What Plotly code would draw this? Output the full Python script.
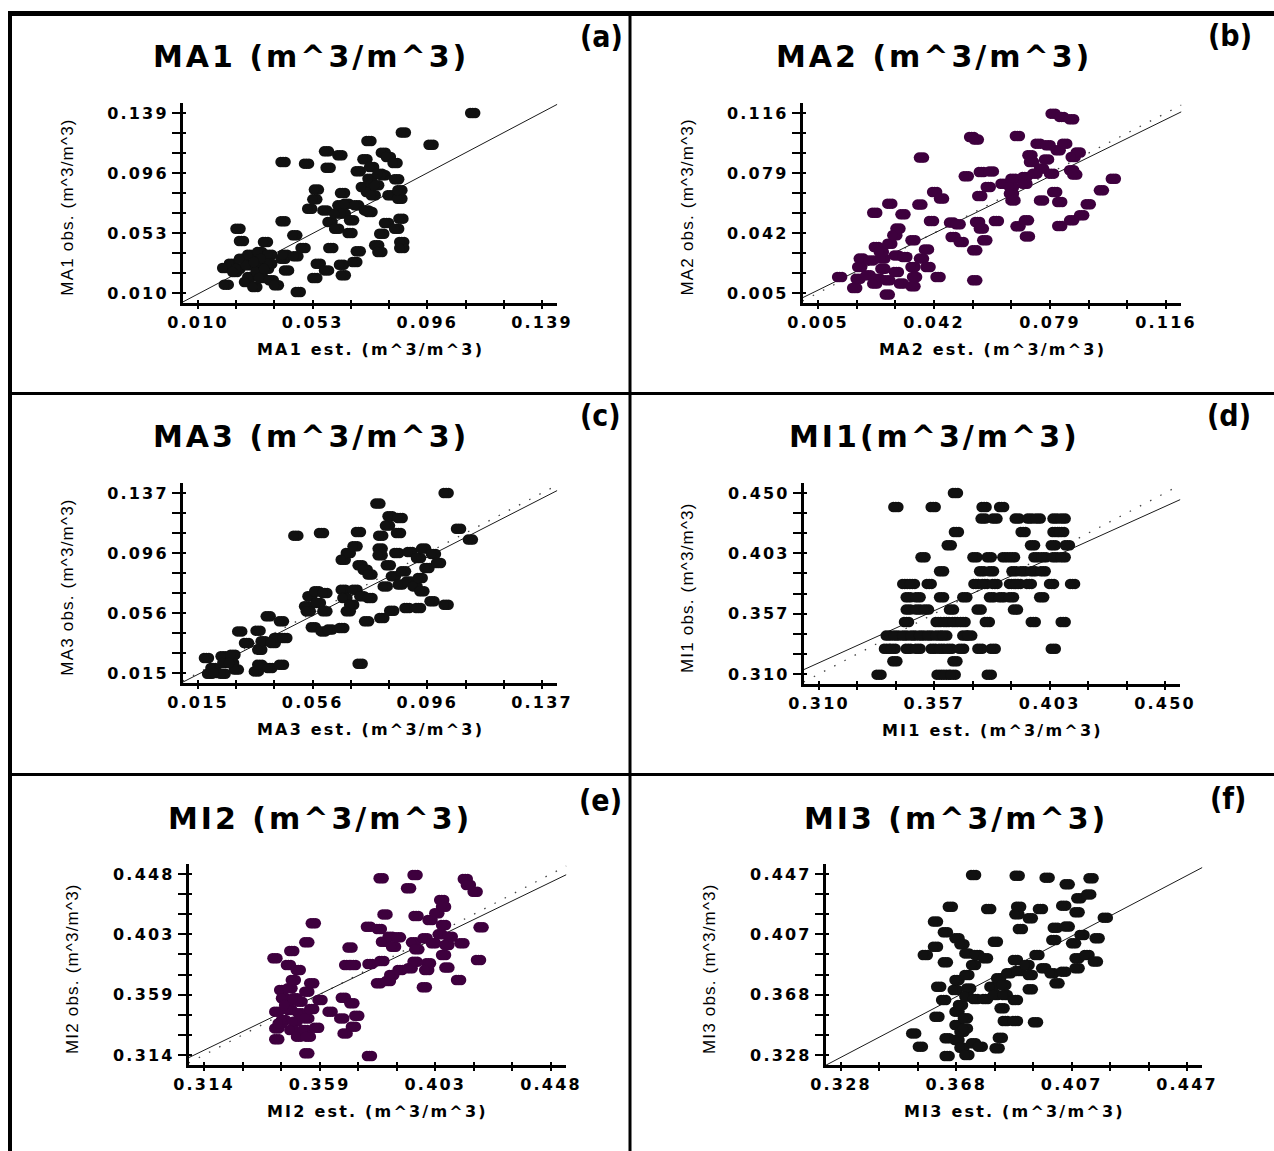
import plotly.graph_objects as go

W, H = 1274, 1151
BLACK = "#111111"
PURPLE = "#3e003e"

# ---------------- data ----------------
ma1_est = [0.113, 0.087, 0.0741, 0.0974, 0.0582, 0.0632, 0.0795, 0.0419, 0.0507, 0.0588,
           0.0726, 0.0814, 0.0839, 0.0701, 0.0751, 0.0795, 0.0845, 0.0770, 0.0739, 0.0820,
           0.0857, 0.0544, 0.0642, 0.0538, 0.0519, 0.0576, 0.0632, 0.0645, 0.0695, 0.0745,
           0.0676, 0.0595, 0.0620, 0.0419, 0.0807, 0.0861, 0.0845, 0.0670, 0.0789, 0.0463,
           0.0250, 0.0263, 0.0353, 0.0494, 0.0598, 0.0701, 0.0770, 0.0782, 0.0864, 0.0864,
           0.0294, 0.0332, 0.0369, 0.0419, 0.0467, 0.0225, 0.0200, 0.0250, 0.0288, 0.0325,
           0.0369, 0.0294, 0.0338, 0.0375, 0.0394, 0.0313, 0.0282, 0.0206, 0.0476, 0.0538,
           0.0551, 0.0582, 0.0638, 0.0645, 0.0688, 0.0426, 0.0263, 0.0344, 0.0432, 0.0657,
           0.0732, 0.0620, 0.0782, 0.0745, 0.0720, 0.0757, 0.0857, 0.0319, 0.0238, 0.0357]
ma1_obs = [0.139, 0.125, 0.1189, 0.1163, 0.1115, 0.1087, 0.1106, 0.1039, 0.1027, 0.0998,
           0.1058, 0.1075, 0.1032, 0.0972, 0.1003, 0.0943, 0.0915, 0.0872, 0.0824, 0.0800,
           0.0776, 0.0841, 0.0817, 0.0771, 0.0704, 0.0692, 0.0728, 0.0669, 0.0728, 0.0681,
           0.0621, 0.0609, 0.0561, 0.0614, 0.0602, 0.0633, 0.0561, 0.0530, 0.0525, 0.0513,
           0.0561, 0.0473, 0.0466, 0.0423, 0.0423, 0.0399, 0.0442, 0.0394, 0.0466, 0.0423,
           0.0375, 0.0394, 0.0375, 0.0346, 0.0363, 0.0310, 0.0279, 0.0274, 0.0298, 0.0250,
           0.0310, 0.0215, 0.0208, 0.0191, 0.0155, 0.0143, 0.0179, 0.0160, 0.0107, 0.0208,
           0.0310, 0.0262, 0.0303, 0.0227, 0.0322, 0.0375, 0.0346, 0.0346, 0.0262, 0.0740,
           0.0692, 0.0669, 0.0955, 0.0919, 0.0860, 0.0800, 0.0836, 0.0322, 0.0250, 0.0274]

ma2_est = [0.0800, 0.0827, 0.0859, 0.0540, 0.0555, 0.0686, 0.0380, 0.0752, 0.0784, 0.0837,
           0.0816, 0.0880, 0.0726, 0.0864, 0.0779, 0.0731, 0.0763, 0.0795, 0.0742, 0.0859,
           0.0869, 0.0710, 0.0672, 0.0640, 0.0667, 0.0710, 0.0667, 0.0672, 0.0571, 0.0603,
           0.0523, 0.0593, 0.0566, 0.0422, 0.0444, 0.0279, 0.0375, 0.0231, 0.0321, 0.0412,
           0.0476, 0.0497, 0.0559, 0.0571, 0.0619, 0.0715, 0.0688, 0.0718, 0.0763, 0.0805,
           0.0821, 0.0912, 0.0954, 0.0992, 0.0891, 0.0859, 0.0821, 0.0305, 0.0295, 0.0353,
           0.0481, 0.0507, 0.0582, 0.0550, 0.0396, 0.0380, 0.0401, 0.0353, 0.0358, 0.0433,
           0.0236, 0.0279, 0.0188, 0.0220, 0.0257, 0.0300, 0.0327, 0.0183, 0.0210, 0.0242,
           0.0257, 0.0300, 0.0273, 0.0316, 0.0353, 0.0119, 0.0178, 0.0167, 0.0271, 0.0550,
           0.0231, 0.0252]
ma2_obs = [0.1156, 0.1136, 0.1121, 0.1012, 0.0996, 0.1018, 0.0885, 0.0971, 0.0961, 0.0971,
           0.0930, 0.0916, 0.0899, 0.0889, 0.0874, 0.0858, 0.0817, 0.0786, 0.0786, 0.0807,
           0.0780, 0.0765, 0.0755, 0.0724, 0.0704, 0.0724, 0.0663, 0.0621, 0.0796, 0.0800,
           0.0770, 0.0704, 0.0648, 0.0673, 0.0632, 0.0601, 0.0595, 0.0545, 0.0535, 0.0494,
           0.0484, 0.0474, 0.0488, 0.0447, 0.0494, 0.0498, 0.0461, 0.0399, 0.0621, 0.0673,
           0.0611, 0.0597, 0.0683, 0.0755, 0.0529, 0.0498, 0.0463, 0.0447, 0.0406, 0.0375,
           0.0395, 0.0365, 0.0375, 0.0313, 0.0319, 0.0262, 0.0210, 0.0210, 0.0149, 0.0149,
           0.0334, 0.0354, 0.0262, 0.0251, 0.0262, 0.0282, 0.0272, 0.0210, 0.0159, 0.0138,
           0.0200, 0.0180, 0.0128, 0.0108, 0.0091, 0.0149, 0.0138, 0.0081, 0.0040, 0.0128,
           0.0108, 0.0303]

ma3_est = [0.1030, 0.0788, 0.0831, 0.0867, 0.0822, 0.0497, 0.0588, 0.0719, 0.0798, 0.0861,
           0.1074, 0.1116, 0.0707, 0.0683, 0.0665, 0.0725, 0.0743, 0.0796, 0.0796, 0.0855,
           0.0902, 0.0950, 0.0985, 0.0932, 0.1003, 0.0825, 0.0879, 0.0962, 0.0843, 0.0897,
           0.0938, 0.0814, 0.0867, 0.0920, 0.0944, 0.0980, 0.1030, 0.0932, 0.0891, 0.0837,
           0.0802, 0.0748, 0.0725, 0.0547, 0.0571, 0.0600, 0.0535, 0.0577, 0.0600, 0.0665,
           0.0671, 0.0707, 0.0731, 0.0760, 0.0695, 0.0683, 0.0559, 0.0594, 0.0618, 0.0660,
           0.0399, 0.0446, 0.0298, 0.0363, 0.0322, 0.0381, 0.0428, 0.0458, 0.0369, 0.0417,
           0.0180, 0.0239, 0.0274, 0.0203, 0.0245, 0.0286, 0.0239, 0.0191, 0.0357, 0.0369,
           0.0405, 0.0446, 0.0269, 0.0215, 0.0541, 0.0760]
ma3_obs = [0.1370, 0.1298, 0.1212, 0.1201, 0.1149, 0.1081, 0.1099, 0.1106, 0.1081, 0.1099,
           0.1128, 0.1054, 0.1009, 0.0963, 0.0918, 0.0880, 0.0850, 0.0993, 0.0948, 0.0963,
           0.0970, 0.0993, 0.0957, 0.0930, 0.0896, 0.0880, 0.0839, 0.0862, 0.0805, 0.0771,
           0.0794, 0.0737, 0.0749, 0.0737, 0.0704, 0.0636, 0.0613, 0.0591, 0.0591, 0.0572,
           0.0523, 0.0500, 0.0213, 0.0670, 0.0704, 0.0692, 0.0602, 0.0624, 0.0568, 0.0715,
           0.0658, 0.0715, 0.0670, 0.0658, 0.0613, 0.0568, 0.0460, 0.0432, 0.0444, 0.0455,
           0.0534, 0.0500, 0.0432, 0.0437, 0.0353, 0.0365, 0.0387, 0.0387, 0.0308, 0.0353,
           0.0252, 0.0263, 0.0274, 0.0184, 0.0218, 0.0173, 0.0145, 0.0145, 0.0161, 0.0206,
           0.0184, 0.0206, 0.0218, 0.0150, 0.0568, 0.0817]

mi1_est = [0.3652,
           0.3411, 0.3562, 0.3768, 0.3839,
           0.3764, 0.3812, 0.3902, 0.3953, 0.3987, 0.4055, 0.4088,
           0.3656, 0.3926, 0.4055, 0.4082,
           0.3627, 0.3964, 0.4048, 0.4105,
           0.3521, 0.3731, 0.3789, 0.3852, 0.3883, 0.3978, 0.4010, 0.4055, 0.4088,
           0.3596, 0.3758, 0.3798, 0.3889, 0.3926, 0.3967, 0.4007,
           0.3447, 0.3478, 0.3546, 0.3735, 0.3771, 0.3812, 0.3879, 0.3906, 0.3951, 0.4041, 0.4126,
           0.3461, 0.3501, 0.3596, 0.3690, 0.3798, 0.3839, 0.3879, 0.4001,
           0.3461, 0.3501, 0.3535, 0.3636, 0.3748, 0.3895,
           0.3454, 0.3582, 0.3616, 0.3650, 0.3683, 0.3781, 0.3967, 0.4088,
           0.3380, 0.3413, 0.3447, 0.3481, 0.3515, 0.3548, 0.3582, 0.3609, 0.3690, 0.3710,
           0.3373, 0.3400, 0.3461, 0.3501, 0.3562, 0.3596, 0.3629, 0.3677, 0.3751, 0.3805, 0.4048,
           0.3407, 0.3650,
           0.3343, 0.3586, 0.3616, 0.3643, 0.3789]
mi1_obs = [0.4500,
           0.4392, 0.4392, 0.4392, 0.4392,
           0.4302, 0.4302, 0.4302, 0.4302, 0.4302, 0.4302, 0.4302,
           0.4199, 0.4199, 0.4199, 0.4199,
           0.4096, 0.4096, 0.4096, 0.4096,
           0.4003, 0.4003, 0.4003, 0.4003, 0.4003, 0.4003, 0.4003, 0.4003, 0.4003,
           0.3895, 0.3895, 0.3895, 0.3895, 0.3895, 0.3895, 0.3895,
           0.3797, 0.3797, 0.3797, 0.3797, 0.3797, 0.3797, 0.3797, 0.3797, 0.3797, 0.3797, 0.3797,
           0.3693, 0.3693, 0.3693, 0.3693, 0.3693, 0.3693, 0.3693, 0.3693,
           0.3598, 0.3598, 0.3598, 0.3598, 0.3598, 0.3598,
           0.3502, 0.3502, 0.3502, 0.3502, 0.3502, 0.3502, 0.3502, 0.3502,
           0.3397, 0.3397, 0.3397, 0.3397, 0.3397, 0.3397, 0.3397, 0.3397, 0.3397, 0.3397,
           0.3296, 0.3296, 0.3296, 0.3296, 0.3296, 0.3296, 0.3296, 0.3296, 0.3296, 0.3296, 0.3296,
           0.3198, 0.3198,
           0.3095, 0.3095, 0.3095, 0.3095, 0.3095]

mi2_est = [0.3824, 0.3955, 0.3930, 0.4149, 0.4161, 0.4187, 0.4058, 0.4065, 0.3839, 0.3959,
           0.4039, 0.4013, 0.4065, 0.4210, 0.3562, 0.3775, 0.3817, 0.3859, 0.3891, 0.3833,
           0.3872, 0.3949, 0.3994, 0.4026, 0.4052, 0.4091, 0.4078, 0.4136, 0.3962, 0.3537,
           0.3704, 0.3479, 0.3414, 0.3466, 0.3504, 0.3691, 0.3717, 0.3781, 0.3827, 0.3955,
           0.4007, 0.4065, 0.4200, 0.3936, 0.4000, 0.4078, 0.3897, 0.3865, 0.3852, 0.3814,
           0.4123, 0.3991, 0.3485, 0.3556, 0.3440, 0.3472, 0.3537, 0.3447, 0.3511, 0.3588,
           0.3678, 0.3711, 0.3421, 0.3472, 0.3511, 0.3556, 0.3627, 0.3672, 0.3730, 0.3447,
           0.3492, 0.3537, 0.3421, 0.3479, 0.3530, 0.3575, 0.3717, 0.3685, 0.3505, 0.3543,
           0.3421, 0.3537, 0.3779, 0.3459, 0.3492, 0.3434]
mi2_obs = [0.4448, 0.4473, 0.4374, 0.4443, 0.4399, 0.4349, 0.4288, 0.4238, 0.4181, 0.4169,
           0.4189, 0.4139, 0.4102, 0.4085, 0.4115, 0.4090, 0.4073, 0.4016, 0.4011, 0.3979,
           0.3942, 0.3974, 0.4004, 0.3967, 0.4033, 0.4016, 0.3954, 0.3967, 0.3922, 0.3974,
           0.3935, 0.3910, 0.3856, 0.3806, 0.3769, 0.3806, 0.3806, 0.3814, 0.3836, 0.3831,
           0.3819, 0.3880, 0.3843, 0.3782, 0.3769, 0.3787, 0.3769, 0.3732, 0.3688, 0.3671,
           0.3695, 0.3641, 0.3695, 0.3671, 0.3621, 0.3634, 0.3609, 0.3560, 0.3535, 0.3547,
           0.3564, 0.3523, 0.3461, 0.3473, 0.3449, 0.3481, 0.3461, 0.3411, 0.3431, 0.3399,
           0.3387, 0.3411, 0.3337, 0.3325, 0.3325, 0.3342, 0.3350, 0.3300, 0.3276, 0.3276,
           0.3256, 0.3152, 0.3133, 0.3510, 0.3560, 0.3374]

mi3_est = [0.3736, 0.3886, 0.3989, 0.4058, 0.4140, 0.4132, 0.4098, 0.4046, 0.4092, 0.3656,
           0.3788, 0.3891, 0.3966, 0.3885, 0.3931, 0.3605, 0.3897, 0.4017, 0.4058, 0.4189,
           0.3639, 0.3679, 0.3696, 0.3605, 0.3811, 0.4012, 0.4109, 0.4161, 0.4080, 0.3570,
           0.3713, 0.3748, 0.3777, 0.3639, 0.3736, 0.3880, 0.3954, 0.3920, 0.3977, 0.4092,
           0.4126, 0.4155, 0.4092, 0.3891, 0.3931, 0.4006, 0.4046, 0.3857, 0.3822, 0.3713,
           0.3679, 0.3616, 0.3673, 0.3719, 0.3799, 0.3840, 0.4023, 0.3931, 0.3633, 0.3713,
           0.3742, 0.3777, 0.3811, 0.3845, 0.3880, 0.3834, 0.3679, 0.3610, 0.3708, 0.3845,
           0.3880, 0.3949, 0.3679, 0.3696, 0.3530, 0.3645, 0.3679, 0.3736, 0.3828, 0.3553,
           0.3696, 0.3759, 0.3817, 0.3645, 0.3713, 0.3691, 0.3708]
mi3_obs = [0.4463, 0.4459, 0.4446, 0.4402, 0.4442, 0.4336, 0.4310, 0.4262, 0.4218, 0.4255,
           0.4240, 0.4255, 0.4240, 0.4205, 0.4179, 0.4157, 0.4108, 0.4117, 0.4124, 0.4183,
           0.4087, 0.4047, 0.4008, 0.3992, 0.4025, 0.4036, 0.4069, 0.4047, 0.4014, 0.3938,
           0.3948, 0.3938, 0.3916, 0.3889, 0.3872, 0.3905, 0.3938, 0.3872, 0.3850, 0.3916,
           0.3938, 0.3894, 0.3850, 0.3832, 0.3806, 0.3817, 0.3828, 0.3817, 0.3784, 0.3806,
           0.3773, 0.3729, 0.3707, 0.3718, 0.3729, 0.3740, 0.3751, 0.3712, 0.3642, 0.3664,
           0.3648, 0.3648, 0.3674, 0.3674, 0.3642, 0.3587, 0.3565, 0.3532, 0.3521, 0.3504,
           0.3504, 0.3495, 0.3477, 0.3433, 0.3422, 0.3390, 0.3379, 0.3357, 0.3394, 0.3335,
           0.3328, 0.3335, 0.3324, 0.3273, 0.3280, 0.3609, 0.3455]

ma1_ticklabels = ["0.010", "0.053", "0.096", "0.139"]
ma2_ticklabels = ["0.005", "0.042", "0.079", "0.116"]
ma3_ticklabels = ["0.015", "0.056", "0.096", "0.137"]
mi1_ticklabels = ["0.310", "0.357", "0.403", "0.450"]
mi2_ticklabels = ["0.314", "0.359", "0.403", "0.448"]
mi3_ticklabels = ["0.328", "0.368", "0.407", "0.447"]

titles = ["MA1 (m^3/m^3)", "MA2 (m^3/m^3)", "MA3 (m^3/m^3)",
          "MI1(m^3/m^3)", "MI2 (m^3/m^3)", "MI3 (m^3/m^3)"]
tags = ["(a)", "(b)", "(c)", "(d)", "(e)", "(f)"]
x_titles = ["MA1 est. (m^3/m^3)", "MA2 est. (m^3/m^3)", "MA3 est. (m^3/m^3)",
            "MI1 est. (m^3/m^3)", "MI2 est. (m^3/m^3)", "MI3 est. (m^3/m^3)"]
y_titles = ["MA1 obs. (m^3/m^3)", "MA2 obs. (m^3/m^3)", "MA3 obs. (m^3/m^3)",
            "MI1 obs. (m^3/m^3)", "MI2 obs. (m^3/m^3)", "MI3 obs. (m^3/m^3)"]

fit_slope = [1.009, 0.949, 0.978, 0.8635, 0.929, 1.004]
fit_intercept = [-0.0008, 0.002, -0.0006, 0.051, 0.0258, -0.0028]
show_one_to_one = [False, True, True, True, True, False]

est_series = [ma1_est, ma2_est, ma3_est, mi1_est, mi2_est, mi3_est]
obs_series = [ma1_obs, ma2_obs, ma3_obs, mi1_obs, mi2_obs, mi3_obs]
tick_labels = [ma1_ticklabels, ma2_ticklabels, ma3_ticklabels,
               mi1_ticklabels, mi2_ticklabels, mi3_ticklabels]
colors = [BLACK, PURPLE, BLACK, BLACK, PURPLE, BLACK]

# ---------------- layout geometry (pixels of the 1274 x 1151 page) ----------------
GEOM = [  # first x tick, last x tick, top y tick, bottom y tick
    (198, 542, 113, 293),
    (818, 1166, 113, 293),
    (198, 542, 493, 673),
    (819, 1165, 493, 674),
    (204, 551, 874, 1055),
    (841, 1187, 874, 1055),
]
TITLE_POS = [(311, 56), (934, 56), (311, 436), (934, 436), (320, 818), (956, 818)]
TAG_POS = [(601, 37), (1230, 35), (600, 415), (1229, 415), (600, 800), (1228, 798)]


def spaced(text, px):
    return f'<span style="letter-spacing:{px}px">{text}</span>'


def xname(k):
    return "xaxis" if k == 1 else f"xaxis{k}"


def yname(k):
    return "yaxis" if k == 1 else f"yaxis{k}"


def xid(k):
    return "x" if k == 1 else f"x{k}"


def yid(k):
    return "y" if k == 1 else f"y{k}"


def px_x(p):
    return p / W


def px_y(p):
    return 1 - p / H


fig = go.Figure()
layout = {}
annotations = []
TICKFONT = dict(family="DejaVu Sans", size=16, color="black", weight="bold")

for i in range(6):
    n = i + 1
    xt0, xt9, yt9, yt0 = GEOM[i]
    labels = tick_labels[i]
    lo, hi = float(labels[0]), float(labels[-1])
    dt = (hi - lo) / 9
    tickvals = [lo + k * dt for k in range(10)]
    ticktext = [spaced(labels[k // 3], 2.2) if k % 3 == 0 else "" for k in range(10)]
    sx = (xt9 - xt0) / 9
    sy = (yt0 - yt9) / 9
    xl, xr = xt0 - 0.4 * sx, xt9 + 0.4 * sx
    yt, yb = yt9 - 0.5 * sy, yt0 + 0.5 * sy
    xrange = [lo - 0.4 * dt, hi + 0.4 * dt]
    yrange = [lo - 0.5 * dt, hi + 0.5 * dt]
    shift = 2.5 * dt / sx

    common = dict(showgrid=False, zeroline=False, fixedrange=True, automargin=False,
                  tickmode="array", tickvals=tickvals, tickcolor="black", tickwidth=2)
    layout[xname(n)] = dict(domain=[px_x(xl), px_x(xr)], range=xrange, anchor=yid(n),
                            showline=True, linecolor="black", linewidth=2.5,
                            ticks="outside", ticklen=3, ticktext=ticktext,
                            tickfont=TICKFONT, ticklabelstandoff=0, **common)
    layout[yname(n)] = dict(domain=[px_y(yb), px_y(yt)], range=yrange, anchor=xid(n),
                            showline=True, linecolor="black", linewidth=2.5,
                            ticks="outside", ticklen=8, ticktext=ticktext,
                            tickfont=TICKFONT, **common)
    # inside halves of the crossing ticks
    layout[xname(6 + n)] = dict(overlaying=xid(n), anchor=yid(n), range=xrange,
                                ticks="inside", ticklen=3, showticklabels=False,
                                showline=False, side="bottom", **common)
    layout[yname(6 + n)] = dict(overlaying=yid(n), anchor=xid(n), range=yrange,
                                ticks="inside", ticklen=3, showticklabels=False,
                                showline=False, side="left", **common)
    # hidden shifted axes used to widen the dots
    layout[xname(12 + n)] = dict(overlaying=xid(n), anchor=yid(n), visible=False,
                                 automargin=False, fixedrange=True,
                                 range=[xrange[0] - shift, xrange[1] - shift])
    layout[xname(18 + n)] = dict(overlaying=xid(n), anchor=yid(n), visible=False,
                                 automargin=False, fixedrange=True,
                                 range=[xrange[0] + shift, xrange[1] + shift])

    fig.add_trace(go.Scatter(x=[], y=[], xaxis=xid(6 + n), yaxis=yid(n),
                             showlegend=False, hoverinfo="skip"))
    fig.add_trace(go.Scatter(x=[], y=[], xaxis=xid(n), yaxis=yid(6 + n),
                             showlegend=False, hoverinfo="skip"))

    # lines
    if show_one_to_one[i]:
        fig.add_trace(go.Scatter(x=xrange, y=xrange, mode="lines", xaxis=xid(n), yaxis=yid(n),
                                 line=dict(color="#444444", width=1.3, dash="1.5px,10px"),
                                 showlegend=False, hoverinfo="skip"))
    fit_y = [fit_slope[i] * v + fit_intercept[i] for v in xrange]
    fig.add_trace(go.Scatter(x=xrange, y=fit_y, mode="lines", xaxis=xid(n), yaxis=yid(n),
                             line=dict(color="#1a1a1a", width=1),
                             showlegend=False, hoverinfo="skip"))

    # points (three copies to get the wide dots)
    for ax in (xid(n), xid(12 + n), xid(18 + n)):
        fig.add_trace(go.Scatter(x=est_series[i], y=obs_series[i], mode="markers",
                                 xaxis=ax, yaxis=yid(n),
                                 marker=dict(size=10.5, color=colors[i], line=dict(width=0)),
                                 showlegend=False, hoverinfo="skip"))

    tx, ty = TITLE_POS[i]
    annotations.append(dict(text=spaced(titles[i], 3.0), x=px_x(tx), y=px_y(ty),
                            xref="paper", yref="paper", showarrow=False,
                            xanchor="center", yanchor="middle",
                            font=dict(family="DejaVu Sans", size=30, color="black", weight="bold")))
    gx, gy = TAG_POS[i]
    annotations.append(dict(text=tags[i], x=px_x(gx), y=px_y(gy),
                            xref="paper", yref="paper", showarrow=False,
                            xanchor="center", yanchor="middle",
                            font=dict(family="DejaVu Sans Condensed, Liberation Sans", size=30,
                                      color="black", weight="bold")))
    annotations.append(dict(text=spaced(x_titles[i], 2.2), x=px_x((xl + xr) / 2),
                            y=px_y(yb + 46), xref="paper", yref="paper", showarrow=False,
                            xanchor="center", yanchor="middle",
                            font=dict(family="DejaVu Sans", size=16, color="black", weight="bold")))
    annotations.append(dict(text=spaced(y_titles[i], 1.2), x=px_x(xl - 116),
                            y=px_y((yt + yb) / 2 + 4), xref="paper", yref="paper",
                            showarrow=False, textangle=-90,
                            xanchor="center", yanchor="middle",
                            font=dict(family="Liberation Sans", size=17, color="black")))

FRAME = [  # x0, y0, x1, y1, width (pixels)
    (8, 13.5, 1274, 13.5, 5),
    (10, 11, 10, 1151, 4),
    (630, 13, 630, 1151, 3),
    (10, 393.5, 1274, 393.5, 3),
    (10, 774.5, 1274, 774.5, 3),
]
shapes = [dict(type="line", xref="paper", yref="paper",
               x0=px_x(a), y0=px_y(b), x1=px_x(c), y1=px_y(d),
               line=dict(color="black", width=w)) for a, b, c, d, w in FRAME]

fig.update_layout(width=W, height=H, autosize=False,
                  margin=dict(l=0, r=0, t=0, b=0, pad=0, autoexpand=False),
                  paper_bgcolor="white", plot_bgcolor="white", showlegend=False,
                  annotations=annotations, shapes=shapes, **layout)

PAGE_FIX = ("document.documentElement.style.overflow='hidden';"
            "document.body.style.margin='0';document.body.style.padding='0';"
            "document.body.style.overflow='hidden';")

fig.write_html("out.html", include_plotlyjs=True, post_script=PAGE_FIX,
               config={"displayModeBar": False})
